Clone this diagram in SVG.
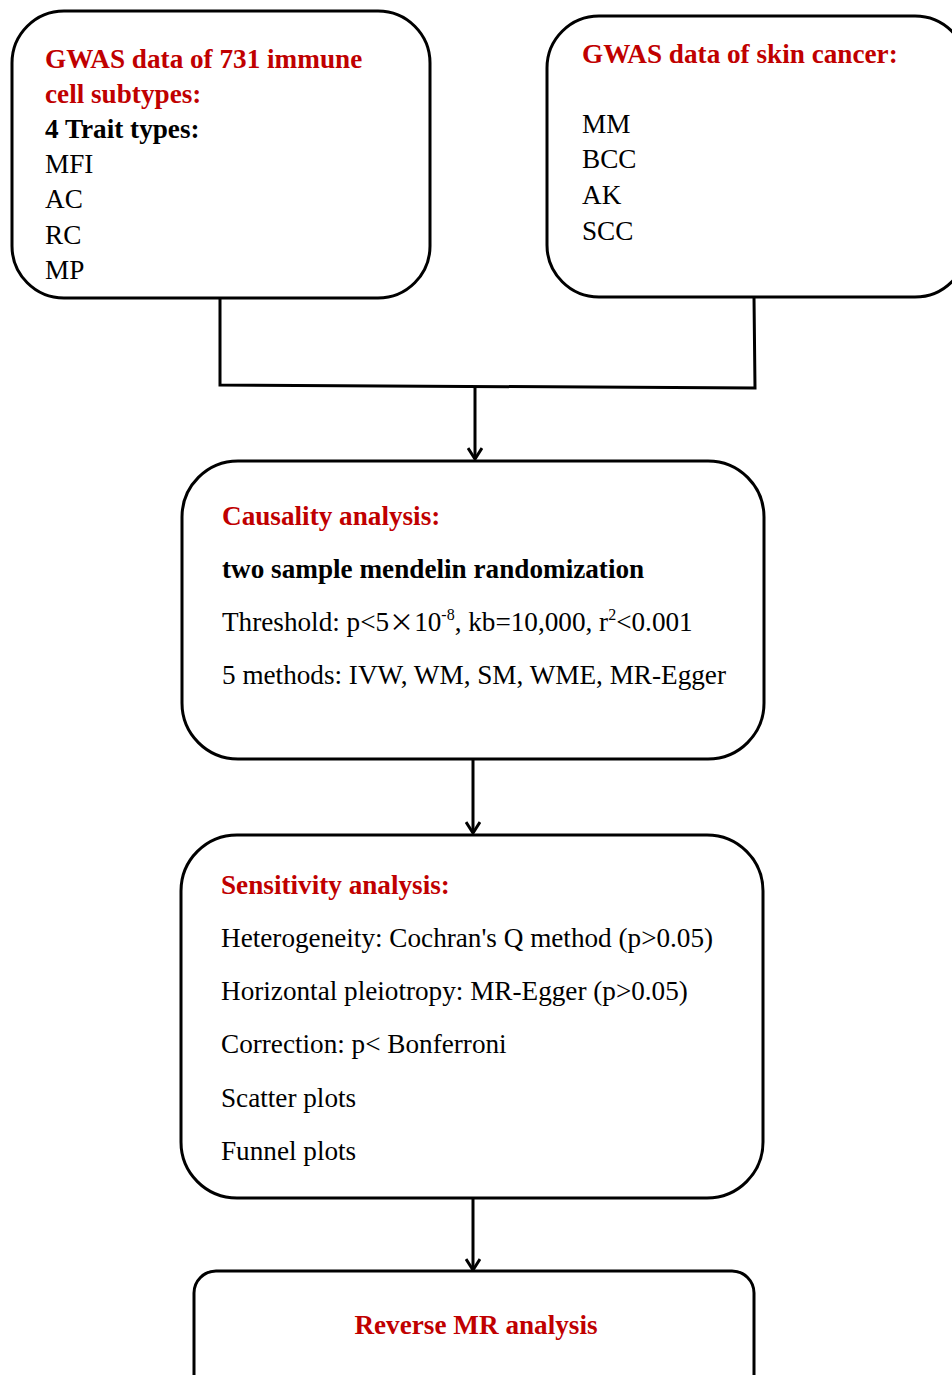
<svg xmlns="http://www.w3.org/2000/svg" width="952" height="1375" viewBox="0 0 952 1375">
<defs>
<style>
.box{fill:#fff;stroke:#000;stroke-width:3}
.t{font-family:"Liberation Serif","Times New Roman",serif;font-size:27.2px;fill:#000}
.b{font-weight:bold}
.r{fill:#C00000;font-weight:bold}
.c{fill:none;stroke:#000;stroke-width:3}
</style>
<marker id="ah" markerWidth="16" markerHeight="16" refX="14" refY="8" orient="auto" markerUnits="userSpaceOnUse" viewBox="0 0 16 16">
<path d="M3,1 L14,8 L3,15" fill="none" stroke="#000" stroke-width="3"/>
</marker>
</defs>
<rect width="952" height="1375" fill="#fff"/>
<g id="connectors">
<path class="c" d="M220,298 L220,385 L755,388 L754,297"/>
<path class="c" d="M475,387 L475,459" marker-end="url(#ah)"/>
<path class="c" d="M473,759 L473,833" marker-end="url(#ah)"/>
<path class="c" d="M473,1198 L473,1270" marker-end="url(#ah)"/>
</g>
<g id="node-immune">
<rect class="box" x="12" y="11" width="418" height="287" rx="52"/>
<text class="t r" x="45" y="68">GWAS data of 731 immune</text>
<text class="t r" x="45" y="103">cell subtypes:</text>
<text class="t b" x="45" y="138">4 Trait types:</text>
<text class="t" x="45" y="173">MFI</text>
<text class="t" x="45" y="208">AC</text>
<text class="t" x="45" y="244">RC</text>
<text class="t" x="45" y="279">MP</text>
</g>
<g id="node-skin">
<rect class="box" x="547" y="16" width="420" height="281" rx="52"/>
<text class="t r" x="582" y="63">GWAS data of skin cancer:</text>
<text class="t" x="582" y="133">MM</text>
<text class="t" x="582" y="168">BCC</text>
<text class="t" x="582" y="204">AK</text>
<text class="t" x="582" y="240">SCC</text>
</g>
<g id="node-causality">
<rect class="box" x="182" y="461" width="582" height="298" rx="56"/>
<text class="t r" x="222" y="525">Causality analysis:</text>
<text class="t b" x="222" y="578">two sample mendelin randomization</text>
<text class="t" x="222" y="631">Threshold: p&lt;5<tspan font-family="'Noto Sans CJK SC',sans-serif" font-size="25">×</tspan>10<tspan font-size="16" dy="-11">-8</tspan><tspan dy="11">, kb=10,000, r</tspan><tspan font-size="16" dy="-11">2</tspan><tspan dy="11">&lt;0.001</tspan></text>
<text class="t" x="222" y="684">5 methods: IVW, WM, SM, WME, MR-Egger</text>
</g>
<g id="node-sensitivity">
<rect class="box" x="181" y="835" width="582" height="363" rx="56"/>
<text class="t r" x="221" y="894">Sensitivity analysis:</text>
<text class="t" x="221" y="947">Heterogeneity: Cochran's Q method (p&gt;0.05)</text>
<text class="t" x="221" y="1000">Horizontal pleiotropy: MR-Egger (p&gt;0.05)</text>
<text class="t" x="221" y="1053">Correction: p&lt; Bonferroni</text>
<text class="t" x="221" y="1107">Scatter plots</text>
<text class="t" x="221" y="1160">Funnel plots</text>
</g>
<g id="node-reverse">
<rect class="box" x="194" y="1271" width="560" height="130" rx="22"/>
<text class="t r" x="476" y="1334" text-anchor="middle">Reverse MR analysis</text>
</g>
</svg>
